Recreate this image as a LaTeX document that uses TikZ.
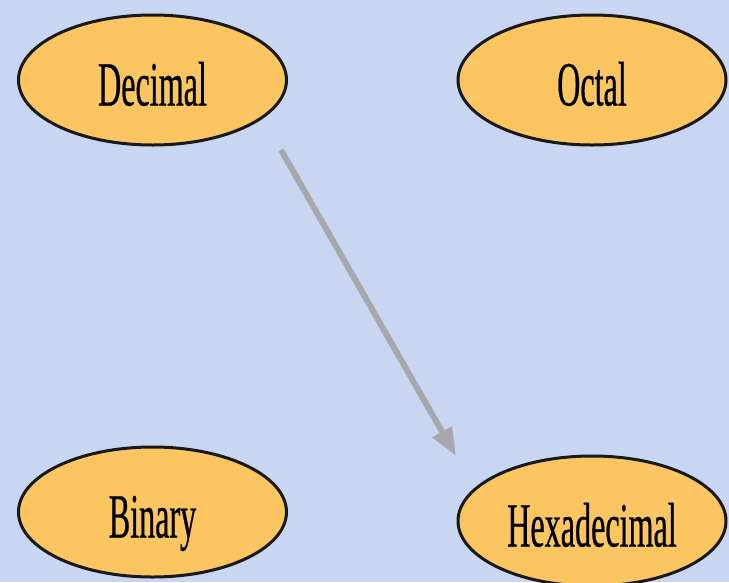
\documentclass[tikz,border=0pt]{standalone}
\usepackage{fontspec}
\newfontfamily\labelfont[FakeStretch=0.51,FakeBold=0.4]{Liberation Serif}
\usetikzlibrary{shapes.geometric, arrows.meta}
\definecolor{paper}{RGB}{200,214,241}
\definecolor{amber}{RGB}{251,198,98}
\definecolor{pointer}{RGB}{168,168,170}
\tikzset{
  base/.style={
    ellipse,
    minimum width=268pt,
    minimum height=130pt,
    align=center,
    draw=black!90,
    line width=3pt,
    fill=amber,
    font=\labelfont\fontsize{63}{63}\selectfont,
    text height=51pt,
    text depth=0pt
  },
  arrow/.style={line width=6pt, pointer, -{Triangle[length=28pt,width=21pt]}}
}

\begin{document}
\begin{tikzpicture}[x=1pt, y=-1pt]
      \fill[paper] (0,0) rectangle (729,582);
      \useasboundingbox (0,0) rectangle (729,582);
      \node (dec) [base] at (152.5,80) {Decimal};
      \node (oct) [base] at (592,80) {Octal};
      \node (bin) [base] at (152.5,512) {Binary};
      \node (hex) [base] at (592,521) {Hexadecimal};
      \coordinate (a0) at (281,150);
      \coordinate (a1) at (456,456);
      \draw[arrow] (a0) -- (a1);
    \end{tikzpicture}
\end{document}
